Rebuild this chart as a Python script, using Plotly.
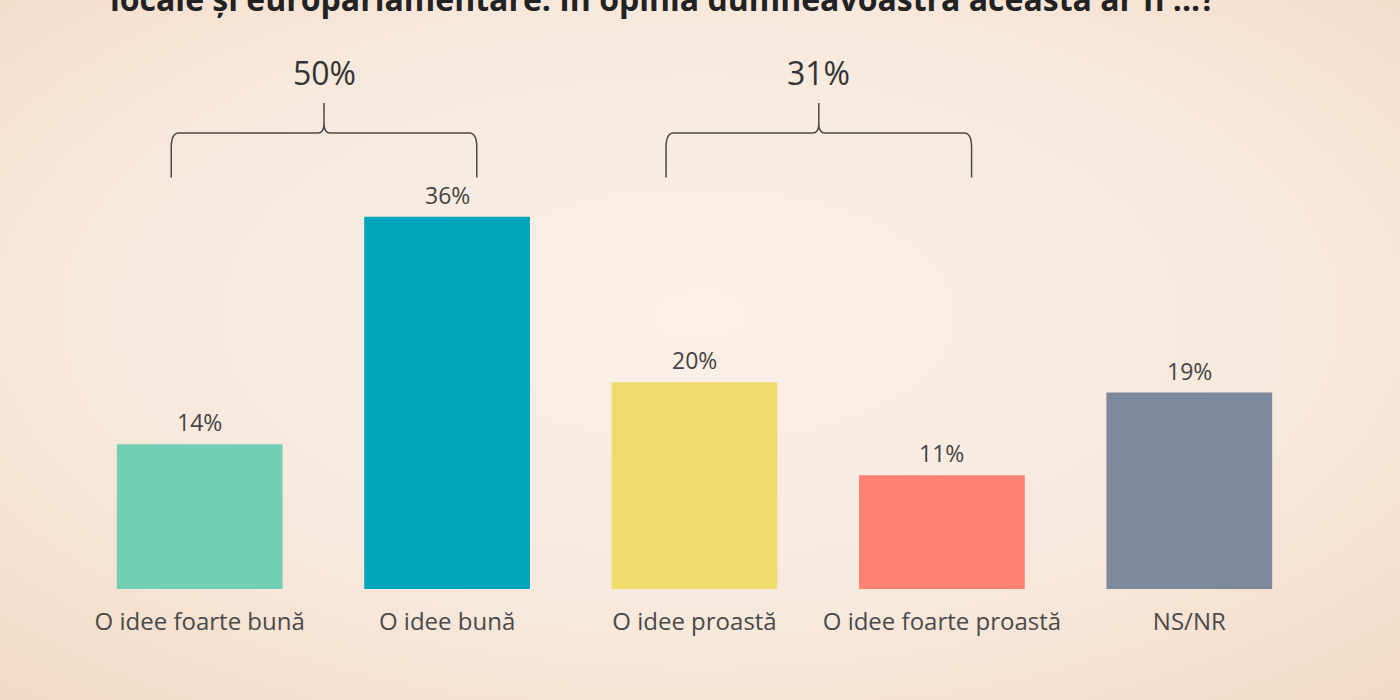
import base64
import plotly.graph_objects as go

categorii = ["O idee foarte bună", "O idee bună", "O idee proastă", "O idee foarte proastă", "NS/NR"]
procente = [14, 36, 20, 11, 19]
culori = ["#72cfb4", "#00a6bb", "#f0dc6c", "#fe8273", "#7d8a9e"]
grupuri = [(0, 1), (2, 3)]  # indicii categoriilor adunate sub acolade
titlu = "locale și europarlamentare. În opinia dumneavoastră aceasta ar fi ...?"

W, H = 1400, 700
ml, mr, mt, mb = 76, 87, 41, 111
y_max = 53
font = "Open Sans"

x = list(range(len(categorii)))

fig = go.Figure()
fig.add_trace(go.Bar(
    x=x,
    y=procente,
    width=0.67,
    marker_color=culori,
    marker_line_width=0,
    hoverinfo="skip",
))

# etichete cu valori deasupra barelor
for xi, v in zip(x, procente):
    fig.add_annotation(
        x=xi, y=v, text=f"{v}%", showarrow=False,
        yanchor="bottom", yshift=4,
        font=dict(family=font, size=23, color="#444444"),
    )

# acoladele pentru grupuri
for a, b in grupuri:
    x0, x1 = a - 0.115, b + 0.12
    mid = (x0 + x1) / 2
    jos, bara, varf = 39.8, 44.1, 47.0
    path = (
        f"M {x0},{jos} L {x0},{bara - 1.4} Q {x0},{bara} {x0 + 0.03},{bara} "
        f"L {mid - 0.025},{bara} Q {mid},{bara} {mid},{bara + 0.9} L {mid},{varf} "
        f"M {mid},{bara + 0.9} Q {mid},{bara} {mid + 0.025},{bara} "
        f"L {x1 - 0.03},{bara} Q {x1},{bara} {x1},{bara - 1.4} L {x1},{jos}"
    )
    fig.add_shape(type="path", path=path, xref="x", yref="y",
                  line=dict(color="#4a4a4a", width=1.5))
    total = sum(procente[i] for i in range(a, b + 1))
    fig.add_annotation(
        x=mid, y=50.0, text=f"{total}%", showarrow=False, yanchor="middle",
        font=dict(family=font, size=32, color="#333333"),
    )

# titlul taiat sus
fig.add_annotation(
    x=0.474, xref="paper", y=1, yref="paper", yanchor="middle", yshift=mt + 2,
    text=f"<b>{titlu}</b>", showarrow=False,
    font=dict(family=font, size=32, color="#222222"),
)

# fundal cu gradient radial
svg = (
    '<svg xmlns="http://www.w3.org/2000/svg" width="1400" height="700">'
    '<defs><radialGradient id="g" cx="50%" cy="45%" r="75%">'
    '<stop offset="0%" stop-color="#faf0e8"/>'
    '<stop offset="60%" stop-color="#f7e8dc"/>'
    '<stop offset="100%" stop-color="#f2d9c3"/>'
    '</radialGradient></defs>'
    '<rect width="1400" height="700" fill="url(#g)"/></svg>'
)
src = "data:image/svg+xml;base64," + base64.b64encode(svg.encode()).decode()
pw, ph = W - ml - mr, H - mt - mb
fig.add_layout_image(
    source=src, xref="paper", yref="paper",
    x=-ml / pw, y=1 + mt / ph, sizex=W / pw, sizey=H / ph,
    sizing="stretch", layer="below", xanchor="left", yanchor="top",
)

fig.update_layout(
    width=W, height=H,
    margin=dict(l=ml, r=mr, t=mt, b=mb),
    paper_bgcolor="#f6e6d8",
    plot_bgcolor="rgba(0,0,0,0)",
    showlegend=False,
    xaxis=dict(
        range=[-0.5, len(categorii) - 0.5],
        tickvals=x, ticktext=categorii,
        showgrid=False, zeroline=False, showline=False,
        ticks="outside", ticklen=11, tickcolor="rgba(0,0,0,0)",
        tickfont=dict(family=font, size=24, color="#4a4a4a"),
    ),
    yaxis=dict(range=[0, y_max], visible=False),
)

fig.write_html(
    "out.html",
    config={"displayModeBar": False},
    post_script="document.body.style.margin='0';",
)
